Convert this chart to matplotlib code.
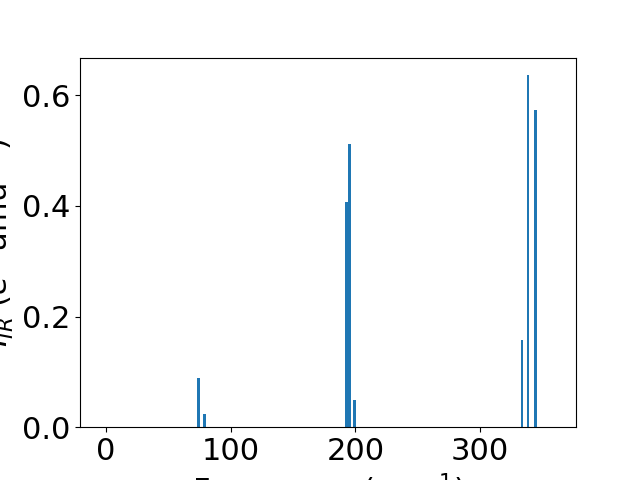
import matplotlib
matplotlib.use("Agg")
import matplotlib.pyplot as plt

# mode frequencies (cm^-1) and IR intensities
freqs = [-1.5, 74.5, 79.0, 193.1, 195.2, 199.5, 333.6, 338.4, 344.2, 357.7]
intensities = [0.0, 0.0896, 0.0246, 0.406, 0.512, 0.050, 0.158, 0.636, 0.573, 0.0]

plt.rcParams['font.size'] = 22

fig = plt.figure(figsize=(6.4, 4.8), dpi=100)
ax = fig.add_subplot(111)
ax.bar(freqs, intensities, width=2, color='#1f77b4')

ax.set_xlabel(r'Frequency (cm$^{-1}$)')
ax.set_ylabel(r'$I_{IR}$ ($e^2$ amu$^{-1}$)')

plt.savefig('out.png')
